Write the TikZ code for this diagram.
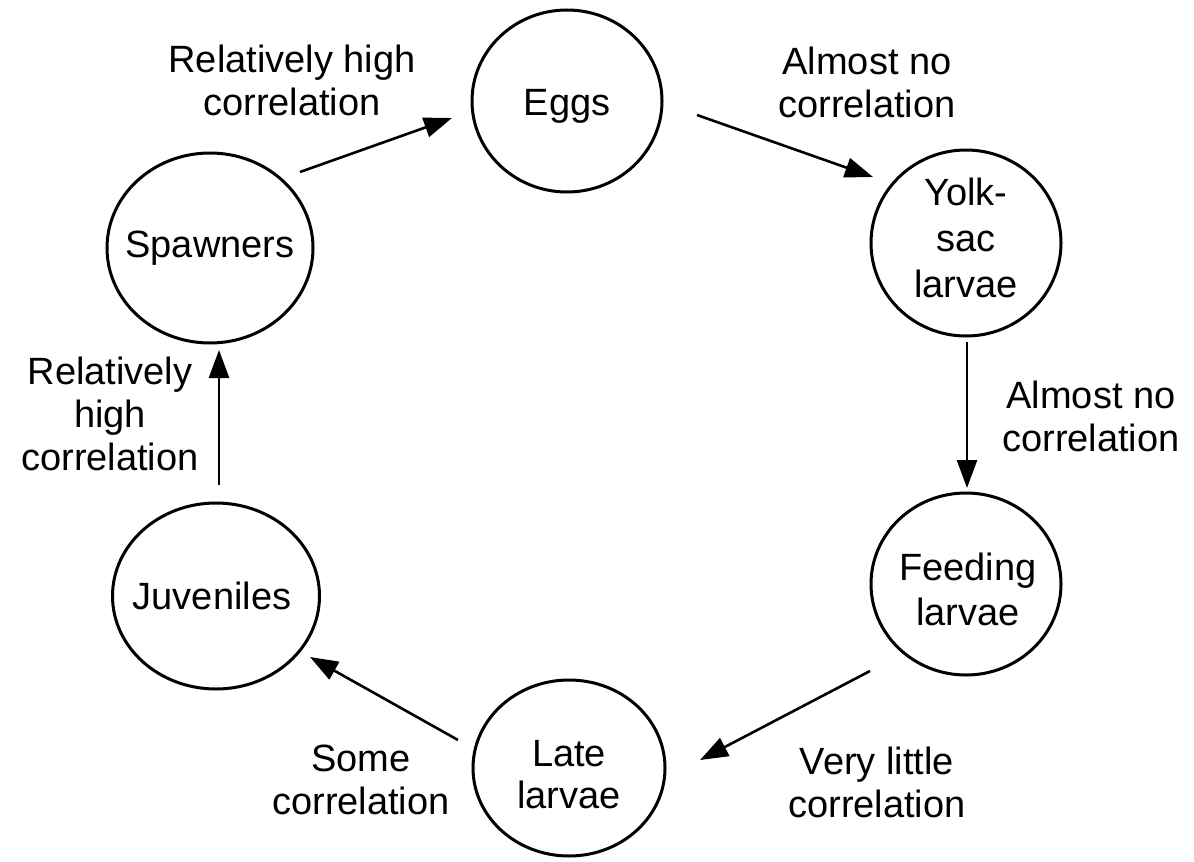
\documentclass[tikz,border=0pt]{standalone}
\usepackage{fontspec}
\setmainfont{Liberation Sans}
\usetikzlibrary{shapes.geometric,arrows.meta,calc}
\tikzset{
  stage/.style={draw, ellipse, line width=3pt, inner sep=0pt},
  stagetext/.style={align=center, inner sep=0pt, font=\fontsize{38}{45}\selectfont},
  lab/.style={align=center, inner sep=0pt, font=\fontsize{38}{43}\selectfont},
  arr/.style={line width=2.6pt, -{Triangle[length=28pt,width=20pt]}}
}
\begin{document}
\begin{tikzpicture}[x=1pt,y=-1pt]
\path[use as bounding box] (0,0) rectangle (1194,862);
% stages
\node[stage, minimum width=190pt, minimum height=182pt] (eggs) at (567,101) {};
\node[stage, minimum width=190pt, minimum height=186pt] (yolk) at (966,243) {};
\node[stage, minimum width=190pt, minimum height=182pt] (feed) at (966,584) {};
\node[stage, minimum width=192pt, minimum height=176pt] (late) at (569,768) {};
\node[stage, minimum width=207pt, minimum height=186pt] (juv) at (216,596) {};
\node[stage, minimum width=206pt, minimum height=190pt] (spawn) at (210,248) {};
\node[stagetext] (eggs-t) at (567,106) {Eggs};
\node[stagetext, font=\fontsize{38}{46}\selectfont] (yolk-t) at (966,238) {Yolk-\\sac\\larvae};
\node[stagetext] (feed-t) at (968,589) {Feeding\\larvae};
\node[stagetext, font=\fontsize{38}{42}\selectfont] (late-t) at (569,775) {Late\\larvae};
\node[stagetext] (juv-t) at (212,596) {Juveniles};
\node[stagetext] (spawn-t) at (210,248) {Spawners};
% connectors
\draw[arr] ($(spawn)+(90,-76)$) -- ($(eggs)+(-115,17)$);
\draw[arr] ($(eggs)+(130,14)$) -- ($(yolk)+(-93,-66)$);
\draw[arr] ($(yolk)+(1,99)$) -- ($(feed)+(1,-96)$);
\draw[arr] ($(feed)+(-96,87)$) -- ($(late)+(131,-8)$);
\draw[arr] ($(late)+(-111,-28)$) -- ($(juv)+(94,61)$);
\draw[arr] ($(juv)+(3,-111)$) -- ($(spawn)+(9,102)$);
% labels
\node[lab] (l1) at (292,80) {Relatively high\\correlation};
\node[lab] (l2) at (867,82) {Almost no\\correlation};
\node[lab] (l3) at (1091,416) {Almost no\\correlation};
\node[lab] (l4) at (877,782) {Very little\\correlation};
\node[lab] (l5) at (361,780) {Some\\correlation};
\node[lab] (l6) at (110,414) {Relatively\\high\\correlation};
\end{tikzpicture}
\end{document}
